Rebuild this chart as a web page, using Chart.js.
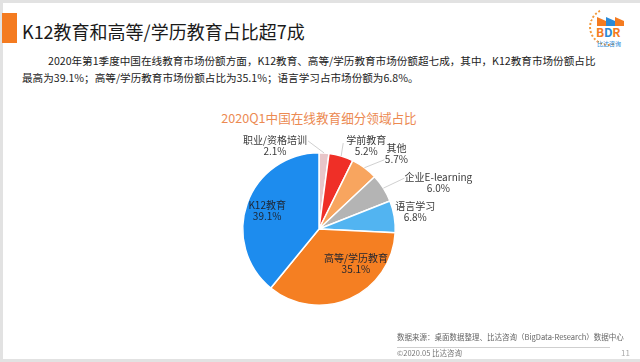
<!DOCTYPE html>
<html>
<head>
<meta charset="utf-8">
<title>2020Q1中国在线教育细分领域占比</title>
<script src="https://cdn.jsdelivr.net/npm/chart.js"></script>
<style>
  body { margin: 0; width: 640px; height: 362px; position: relative; overflow: hidden; background: #fff;
         font-family: "Noto Sans CJK SC", sans-serif; }
  .frame { position: absolute; left: 0; top: 0; width: 640px; height: 362px; box-sizing: border-box;
           border-top: 3px solid #e2e2e2; border-left: 3px solid #e2e2e2; border-bottom: 3px solid #e2e2e2; }
  .bar { position: absolute; left: 2px; top: 13px; width: 15px; height: 30px; background: #f47b20; }
  .title { position: absolute; left: 22px; top: 19px; font-size: 18px; color: #1a1a1a; white-space: nowrap; line-height: 24px; }
  .para { position: absolute; left: 22px; top: 52px; font-size: 10.6px; line-height: 17px; color: #222; white-space: nowrap; }
  .para p { margin: 0; }
  .para p.first { text-indent: 26px; }
  .ctitle { position: absolute; left: 0; width: 638px; top: 108px; text-align: center; font-size: 12.6px; color: #ec8a52; }
  .src { position: absolute; left: 397px; top: 331px; font-size: 7.5px; color: #666; white-space: nowrap; }
  .rule { position: absolute; left: 397px; top: 347px; width: 213px; height: 1px; background: #cfcfcf; }
  .copy { position: absolute; left: 397px; top: 347px; font-size: 7.5px; color: #777; white-space: nowrap; }
  .page { position: absolute; left: 621px; top: 347px; font-size: 8px; color: #aaa; }
  .logo { position: absolute; left: 589px; top: 8px; width: 40px; height: 40px; }
  .logo .ring { position: absolute; left: 0; top: 0; width: 34px; height: 34px; border: 2px dotted #f29a3c; border-radius: 50%;
                border-right-color: transparent; border-top-color: transparent; transform: rotate(20deg); }
  .logo .blk { position: absolute; top: 9px; width: 9px; height: 9px; clip-path: polygon(0 100%, 0 0, 100% 45%, 100% 100%); }
  .logo .bdr { position: absolute; left: 7px; top: 15px; font-size: 12px; font-weight: bold; color: #f47b20; letter-spacing: -0.3px; }
  .logo .bdr span { color: #2a8ad8; }
  .logo .cn { position: absolute; left: 8px; top: 31px; font-size: 6px; color: #2a8ad8; white-space: nowrap; }
  canvas { position: absolute; left: 0; top: 0; }
</style>
</head>
<body>
<div class="frame"></div>
<div class="bar"></div>
<div class="title">K12教育和高等/学历教育占比超7成</div>
<div class="logo">
  <div class="ring"></div>
  <div class="blk" style="left:8px;background:#f47b20"></div>
  <div class="blk" style="left:17px;background:#2a8ad8"></div>
  <div class="blk" style="left:26px;background:#f47b20"></div>
  <div class="bdr">B<span>D</span>R</div>
  <div class="cn">比达咨询</div>
</div>
<div class="para">
  <p class="first">2020年第1季度中国在线教育市场份额方面，K12教育、高等/学历教育市场份额超七成，其中，K12教育市场份额占比</p>
  <p>最高为39.1%；高等/学历教育市场份额占比为35.1%；语言学习占市场份额为6.8%。</p>
</div>
<div class="ctitle">2020Q1中国在线教育细分领域占比</div>
<canvas id="pieChart" width="640" height="362"></canvas>
<div class="src">数据来源：桌面数据整理、比达咨询（BigData-Research）数据中心</div>
<div class="rule"></div>
<div class="copy">©2020.05 比达咨询</div>
<div class="page">11</div>

<script>
  const categories = ['职业/资格培训', '学前教育', '其他', '企业E-learning', '语言学习', '高等/学历教育', 'K12教育'];
  const shares = [2.1, 5.2, 5.7, 6.0, 6.8, 35.1, 39.1];
  const sliceColors = ['#e8c6c9', '#ef2f27', '#f8a55f', '#b4b4b4', '#52b4f1', '#f57f22', '#1d8cee'];

  // label placement relative to each slice's outer mid point; line = leader line end
  const labelOffsets = [
    { dx: -49, dy: -7, line: [-16, -12] },
    { dx: 25, dy: -10, line: [2, -13] },
    { dx: 32, dy: -14.5, line: [20, -8] },
    { dx: 55, dy: -5, line: [21, -10] },
    { dx: 21, dy: -4.5 },
    { dx: 6, dy: -34.5 },
    { dx: 20, dy: 7 }
  ];

  const sliceLabels = {
    id: 'sliceLabels',
    afterDatasetsDraw(chart) {
      const ctx = chart.ctx;
      const meta = chart.getDatasetMeta(0);
      ctx.save();
      ctx.font = '10px "Noto Sans CJK SC"';
      ctx.textAlign = 'center';
      ctx.textBaseline = 'middle';
      meta.data.forEach((arc, i) => {
        const p = arc.getProps(['x', 'y', 'startAngle', 'endAngle', 'outerRadius'], true);
        const mid = (p.startAngle + p.endAngle) / 2;
        const px = p.x + Math.cos(mid) * p.outerRadius;
        const py = p.y + Math.sin(mid) * p.outerRadius;
        const o = labelOffsets[i];
        if (o.line) {
          ctx.strokeStyle = '#c4c4c4';
          ctx.lineWidth = 0.8;
          ctx.beginPath();
          ctx.moveTo(px, py);
          ctx.lineTo(px + o.line[0], py + o.line[1]);
          ctx.stroke();
        }
        const cx = px + o.dx, cy = py + o.dy;
        ctx.fillStyle = i >= 5 ? '#1e2430' : '#3a3a3a';
        ctx.fillText(categories[i], cx, cy - 5.5);
        ctx.fillText(shares[i].toFixed(1) + '%', cx, cy + 5.5);
      });
      ctx.restore();
    }
  };

  new Chart(document.getElementById('pieChart').getContext('2d'), {
    type: 'pie',
    data: {
      labels: categories,
      datasets: [{
        data: shares,
        backgroundColor: sliceColors,
        borderColor: '#ffffff',
        borderWidth: 1.5
      }]
    },
    options: {
      responsive: false,
      animation: false,
      layout: { padding: { left: 242, right: 244, top: 152, bottom: 56 } },
      plugins: {
        legend: { display: false },
        tooltip: { enabled: false }
      }
    },
    plugins: [sliceLabels]
  });
</script>
</body>
</html>
